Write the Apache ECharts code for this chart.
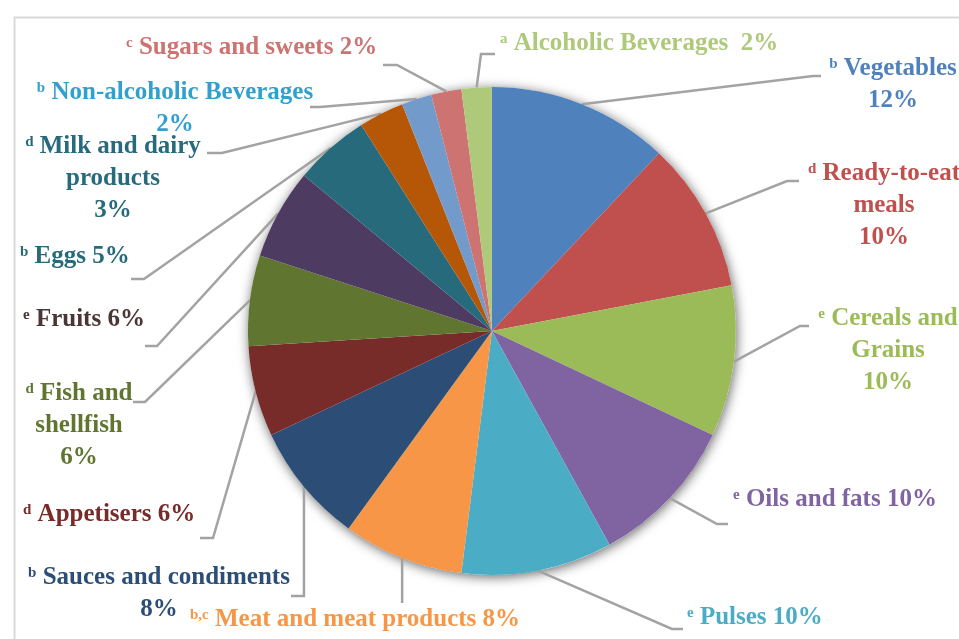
<!DOCTYPE html>
<html>
<head>
<meta charset="utf-8">
<script src="https://cdn.jsdelivr.net/npm/echarts@6/dist/echarts.min.js"></script>
<style>
  html, body { margin: 0; padding: 0; background: #ffffff; }
  #chart { width: 959px; height: 639px; }
</style>
</head>
<body>
<div id="chart"></div>
<script>
// Food groups (line breaks mark where the label wraps)
const categories = [
  'Vegetables', 'Ready-to-eat\nmeals', 'Cereals and\nGrains', 'Oils and fats', 'Pulses',
  'Meat and meat products', 'Sauces and condiments', 'Appetisers', 'Fish and\nshellfish', 'Fruits',
  'Eggs', 'Milk and dairy\nproducts', 'Non-alcoholic Beverages', 'Sugars and sweets', 'Alcoholic Beverages'
];
// Share of each group, %
const shares = [12, 10, 10, 10, 10, 8, 8, 6, 6, 6, 5, 3, 2, 2, 2];
// Significance letters shown as superscripts
const notes = ['b', 'd', 'e', 'e', 'e', 'b,c', 'b', 'd', 'd', 'e', 'b', 'd', 'b', 'c', 'a'];

const sliceColors = [
  '#4F81BD', '#C0504D', '#9BBB59', '#8064A2', '#4BACC6',
  '#F79646', '#2C4D75', '#772C2A', '#5F7530', '#4D3B62',
  '#276A7C', '#B65708', '#729ACA', '#CD7371', '#AFC97A'
];
const textColors = [
  '#4F81BD', '#C0504D', '#9BBB59', '#8064A2', '#4BACC6',
  '#F79646', '#2C4D75', '#772C2A', '#5F7530', '#4A3636',
  '#276A7C', '#276A7C', '#31A0CF', '#CD7371', '#AFC97A'
];

// Label anchors, separator before the percentage and leader-line bends
const labelPlacement = [
  { x: 893, y: 85,  align: 'center', sep: '\n', elbow: [813, 76],  end: [821, 76] },
  { x: 884, y: 206, align: 'center', sep: '\n', elbow: [787, 181], end: [799, 181] },
  { x: 888, y: 351, align: 'center', sep: '\n', elbow: [800, 326], end: [809, 326] },
  { x: 733, y: 500, align: 'left',   sep: ' ',  elbow: [717, 524], end: [728, 524] },
  { x: 687, y: 618, align: 'left',   sep: ' ',  elbow: [672, 629], end: [683, 629] },
  { x: 190, y: 620, align: 'left',   sep: ' ',  drop: 603, endDx: 0 },
  { x: 159, y: 594, align: 'center', sep: '\n', drop: 596, endDx: -13 },
  { x: 23,  y: 515, align: 'left',   sep: ' ',  elbow: [213, 538], end: [200, 538] },
  { x: 79,  y: 426, align: 'center', sep: '\n', elbow: [145, 402], end: [133, 402] },
  { x: 23,  y: 320, align: 'left',   sep: ' ',  elbow: [157, 346], end: [145, 346] },
  { x: 20,  y: 257, align: 'left',   sep: ' ',  elbow: [144, 279], end: [131, 279] },
  { x: 113, y: 179, align: 'center', sep: '\n', elbow: [222, 153], end: [207, 153] },
  { x: 175, y: 109, align: 'center', sep: '\n', elbow: [320, 107], end: [310, 107] },
  { x: 126, y: 48,  align: 'left',   sep: ' ',  elbow: [397, 65],  end: [383, 65] },
  { x: 500, y: 44,  align: 'left',   sep: '  ', elbow: [481, 54],  end: [495, 54] }
];

const FONT = "'Liberation Serif', 'Times New Roman', serif";
const CENTER = ['51.3%', '51.8%'];
const RADIUS = 244;

const pieData = categories.map(function (name, i) {
  return {
    name: name,
    value: shares[i],
    itemStyle: { color: sliceColors[i] },
    label: { color: textColors[i] }
  };
});

const chart = echarts.init(document.getElementById('chart'), null, { renderer: 'canvas' });

chart.setOption({
  animation: false,
  backgroundColor: '#ffffff',
  graphic: [{
    type: 'rect',
    left: 12,
    top: 15,
    silent: true,
    shape: { width: 1000, height: 700 },
    style: { fill: 'none', stroke: '#d9d9d9', lineWidth: 2 }
  }],
  series: [
    {
      // soft drop shadow behind the whole disc
      type: 'pie',
      silent: true,
      z: 1,
      center: CENTER,
      radius: RADIUS,
      label: { show: false },
      labelLine: { show: false },
      emphasis: { disabled: true },
      itemStyle: {
        color: '#ffffff',
        shadowBlur: 12,
        shadowOffsetX: 1,
        shadowOffsetY: 2,
        shadowColor: 'rgba(0,0,0,0.6)'
      },
      data: [1]
    },
    {
      type: 'pie',
      z: 2,
      center: CENTER,
      radius: RADIUS,
      startAngle: 90,
      clockwise: true,
      avoidLabelOverlap: false,
      emphasis: { disabled: true },
      itemStyle: { borderWidth: 0 },
      label: {
        show: true,
        position: 'outside',
        fontFamily: FONT,
        fontWeight: 'bold',
        fontSize: 25,
        lineHeight: 32,
        formatter: function (p) {
          const i = p.dataIndex;
          return '{s|' + notes[i] + '} ' + categories[i] + labelPlacement[i].sep +
            Math.round(p.percent) + '%';
        },
        rich: {
          s: {
            fontFamily: FONT,
            fontWeight: 'bold',
            fontSize: 15,
            verticalAlign: 'middle',
            padding: [0, 0, 9, 0]
          }
        }
      },
      labelLine: {
        show: true,
        length: 10,
        length2: 10,
        smooth: false,
        lineStyle: { color: '#a3a3a3', width: 2.5 }
      },
      labelLayout: function (params) {
        const pl = labelPlacement[params.dataIndex];
        const p0 = params.labelLinePoints ? params.labelLinePoints[0] : null;
        let pts;
        if (p0) {
          if (pl.drop != null) {
            pts = [p0, [p0[0], pl.drop], [p0[0] + pl.endDx, pl.drop]];
          } else {
            pts = [p0, pl.elbow, pl.end];
          }
        }
        return {
          x: pl.x,
          y: pl.y,
          align: pl.align,
          verticalAlign: 'middle',
          labelLinePoints: pts
        };
      },
      data: pieData
    }
  ]
});
</script>
</body>
</html>
